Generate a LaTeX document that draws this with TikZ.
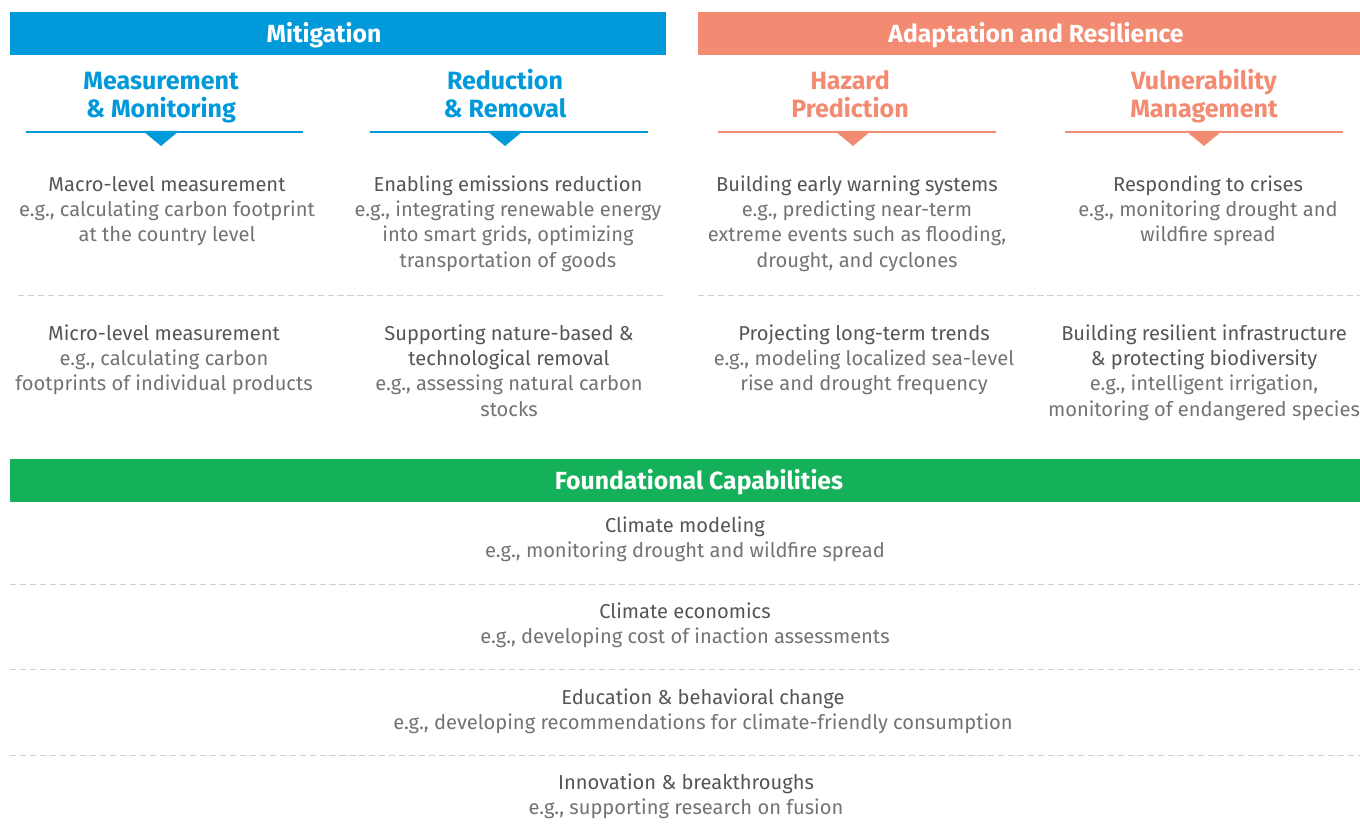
\documentclass[tikz,border=0pt]{standalone}
\usepackage{fontspec}
\setmainfont{Fira Sans}
\definecolor{mitblue}{HTML}{0099DA}
\definecolor{adasalmon}{HTML}{F38A72}
\definecolor{fndgreen}{HTML}{14B15A}
\definecolor{headgray}{HTML}{555555}
\definecolor{bodygray}{HTML}{737373}
\definecolor{sepgray}{HTML}{CFCFCF}
\newcommand{\itemtitle}[1]{\rule{0pt}{12.6pt}\textcolor{headgray}{#1}}

\begin{document}
\begin{tikzpicture}[x=0.025cm,y=-0.025cm,
	bar/.style={inner sep=0,minimum height=1.075cm},
	barlabel/.style={anchor=base,inner sep=0,text=white,
		font=\fontsize{17.6pt}{20pt}\selectfont\bfseries},
	subhead/.style={anchor=base,inner sep=0,align=center,
		font=\fontsize{17.8pt}{20.6pt}\selectfont\bfseries},
	entry/.style={anchor=north,inner sep=0,align=center,text=bodygray,
		font=\fontsize{14.3pt}{18pt}\selectfont},
	rule/.style={line width=1.6pt},
	sep/.style={draw=sepgray,line width=0.7pt,dash pattern=on 4.3pt off 2.8pt}]
	\useasboundingbox (0,0) rectangle (1360,832);
	% top bars
	\node[bar,fill=mitblue,minimum width=16.4cm] (mitbar) at (338,33.5) {};
	\node[barlabel] (mitlabel) at (324,42.5) {Mitigation};
	\node[bar,fill=adasalmon,minimum width=16.55cm] (adabar) at (1029,33.5) {};
	\node[barlabel] (adalabel) at (1036,42.5) {Adaptation and Resilience};
	% sub headings (base = last line)
	\node[subhead,text=mitblue] (measure) at (161,118) {Measurement\\\& Monitoring};
	\node[subhead,text=mitblue] (reduce) at (505,118) {Reduction\\\& Removal};
	\node[subhead,text=adasalmon] (hazard) at (850,118) {Hazard\\Prediction};
	\node[subhead,text=adasalmon] (vulner) at (1204,118) {Vulnerability\\Management};
	\draw[rule,mitblue] (26,132) -- (303,132);
	\fill[mitblue] (143,131) -- (179,131) -- (161,146) -- cycle;
	\draw[rule,mitblue] (370,132) -- (648,132);
	\fill[mitblue] (487,131) -- (523,131) -- (505,146) -- cycle;
	\draw[rule,adasalmon] (718,132) -- (996,132);
	\fill[adasalmon] (835,131) -- (871,131) -- (853,146) -- cycle;
	\draw[rule,adasalmon] (1065,132) -- (1343,132);
	\fill[adasalmon] (1186,131) -- (1222,131) -- (1204,146) -- cycle;
	% first row
	\node[entry] (macro) at (167,173.3) {\itemtitle{Macro-level measurement}\\e.g., calculating carbon footprint\\at the country level};
	\node[entry] (enable) at (508,173.3) {\itemtitle{Enabling emissions reduction}\\e.g., integrating renewable energy\\into smart grids, optimizing\\transportation of goods};
	\node[entry] (warning) at (857,173.3) {\itemtitle{Building early warning systems}\\e.g., predicting near-term\\extreme events such as flooding,\\drought, and cyclones};
	\node[entry] (crises) at (1208,173.3) {\itemtitle{Responding to crises}\\e.g., monitoring drought and\\wildfire spread};
	\draw[sep] (18,295) -- (664,295);
	\draw[sep] (698,295) -- (1360,295);
	% second row
	\node[entry] (micro) at (164,322.3) {\itemtitle{Micro-level measurement}\\e.g., calculating carbon\\footprints of individual products};
	\node[entry] (nature) at (509,322.3) {\itemtitle{Supporting nature-based \&}\\\itemtitle{technological removal}\\e.g., assessing natural carbon\\stocks};
	\node[entry] (trends) at (864,322.3) {\itemtitle{Projecting long-term trends}\\e.g., modeling localized sea-level\\rise and drought frequency};
	\node[entry] (infra) at (1204,322.3) {\itemtitle{Building resilient infrastructure}\\\itemtitle{\& protecting biodiversity}\\e.g., intelligent irrigation,\\monitoring of endangered species};
	% foundation
	\node[bar,fill=fndgreen,minimum width=33.75cm] (fndbar) at (685,480.5) {};
	\node[barlabel] (fndlabel) at (699,489) {Foundational Capabilities};
	\node[entry] (model) at (685,514.3) {\itemtitle{Climate modeling}\\e.g., monitoring drought and wildfire spread};
	\draw[sep] (10,584) -- (1360,584);
	\node[entry] (econ) at (685,600.3) {\itemtitle{Climate economics}\\e.g., developing cost of inaction assessments};
	\draw[sep] (10,669) -- (1360,669);
	\node[entry] (educ) at (703,686.3) {\itemtitle{Education \& behavioral change}\\e.g., developing recommendations for climate-friendly consumption};
	\draw[sep] (10,755) -- (1360,755);
	\node[entry] (innov) at (686,771.3) {\itemtitle{Innovation \& breakthroughs}\\e.g., supporting research on fusion};
\end{tikzpicture}
\end{document}
